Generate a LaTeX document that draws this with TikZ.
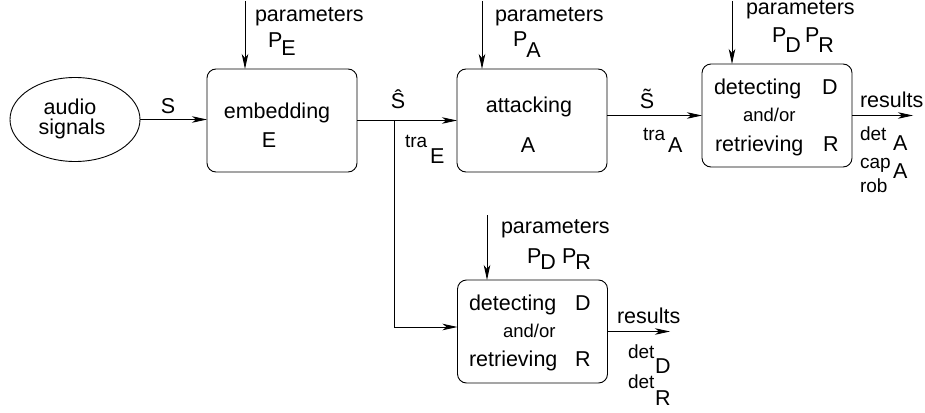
\documentclass[tikz,border=0pt]{standalone}
\usepackage{fontspec}
\setmainfont{Liberation Sans}
\usetikzlibrary{arrows.meta,shapes.geometric}
% letter set lower as an index, at full size
\newcommand\lowidx[3][9pt]{#2\kern-1pt\raisebox{-#1}{#3}}

\begin{document}
\begin{tikzpicture}[x=1pt,y=-1pt,
  every node/.style={font=\fontsize{21.5}{25}\selectfont, inner sep=0pt, outer sep=0pt},
  stage/.style={draw, rounded corners=9pt, minimum width=150pt, minimum height=103pt, line width=0.9pt},
  source/.style={draw, ellipse, minimum width=130pt, minimum height=84pt, line width=0.9pt},
  flow/.style={-{Stealth[length=15pt,width=6.5pt,inset=4pt]}, line width=0.9pt},
  lbl/.style={anchor=base west},
  lblc/.style={anchor=base},
  small/.style={anchor=base west, font=\fontsize{19}{22}\selectfont},
  tiny/.style={anchor=base west, font=\fontsize{18.5}{21}\selectfont}
]
\useasboundingbox (0,0) rectangle (925,412);

% blocks
\node[source] (src) at (75,119.5) {};
\node[stage] (emb) at (282,120.5) {};
\node[stage] (att) at (532,120.5) {};
\node[stage] (dr1) at (777,115.5) {};
\node[stage] (dr2) at (532.5,331.5) {};

% block texts
\node[lblc] (srcA) at (70,114) {audio};
\node[lblc] (srcB) at (72,134) {signals};
\node[lblc] (embA) at (277,118) {embedding};
\node[lblc] (embB) at (269,147) {E};
\node[lblc] (attA) at (529,112) {attacking};
\node[lblc] (attB) at (528,152) {A};
\node[lbl] (dr1a) at (714,94) {detecting};
\node[lbl] (dr1b) at (822,94) {D};
\node[tiny] (dr1c) at (743,121) {and/or};
\node[lbl] (dr1d) at (715,151) {retrieving};
\node[lbl] (dr1e) at (823,151) {R};
\node[lbl] (dr2a) at (469,310) {detecting};
\node[lbl] (dr2b) at (575,310) {D};
\node[tiny] (dr2c) at (503,337) {and/or};
\node[lbl] (dr2d) at (469,366) {retrieving};
\node[lbl] (dr2e) at (575,366) {R};

% parameter inputs
\coordinate (pe) at (245,1);
\coordinate (pa) at (482,1);
\coordinate (pd1) at (732,1);
\coordinate (pd2) at (487,215);
\draw[flow] (pe) -- (pe |- emb.north);
\draw[flow] (pa) -- (pa |- att.north);
\draw[flow] (pd1) -- (pd1 |- dr1.north);
\draw[flow] (pd2) -- (pd2 |- dr2.north);
\node[lbl] (parE) at (255,22) {parameters};
\node[lbl] (parA) at (495,22) {parameters};
\node[lbl] (parD1) at (746,15) {parameters};
\node[lbl] (parD2) at (501,233) {parameters};
\node[lbl] (pE) at (268,48) {\lowidx[8pt]{P}{E}};
\node[lbl] (pA) at (513,47) {\lowidx[10pt]{P}{A}};
\node[lbl] (pD1) at (772,42) {\lowidx[10pt]{P}{D}};
\node[lbl] (pR1) at (805,42) {\lowidx[10pt]{P}{R}};
\node[lbl] (pD2) at (527,263) {\lowidx[6pt]{P}{D}};
\node[lbl] (pR2) at (562,263) {\lowidx[6pt]{P}{R}};

% signal flow
\draw[flow] (src.east) -- (src.east -| emb.west);
\draw[flow] (emb.east) -- (att.west);
\coordinate (fork) at (394,120.5);
\draw[flow] (fork) |- ([yshift=4.5pt]dr2.west);
\draw[flow] (att.east |- dr1.west) -- (dr1.west);
\coordinate (out1) at (913,115.5);
\coordinate (out2) at (670,331.5);
\draw[flow] (dr1.east) -- (out1);
\draw[flow] (dr2.east) -- (out2);

% signal labels
\node[lblc] (sIn) at (168,113) {S};
\node[lblc] (sHat) at (398,108) {Ŝ};
\node[lblc] (sTil) at (647,108) {\~{S}};
\node[small] (traE) at (405,147) {tra};
\node[lbl] (traEi) at (430,163) {E};
\node[small] (traA) at (643,140) {tra};
\node[lbl] (traAi) at (668,152) {A};

% results
\node[lbl] (res1) at (860,107) {results};
\node[small] (det1) at (860,140) {det};
\node[lbl] (det1i) at (893,150) {A};
\node[small] (cap1) at (860,168) {cap};
\node[lbl] (cap1i) at (893,178) {A};
\node[small] (rob1) at (860,192) {rob};
\node[lbl] (res2) at (617,323) {results};
\node[small] (det2) at (628,358) {det};
\node[lbl] (det2i) at (655,373) {D};
\node[small] (det3) at (628,388) {det};
\node[lbl] (det3i) at (655,405) {R};
\end{tikzpicture}
\end{document}
